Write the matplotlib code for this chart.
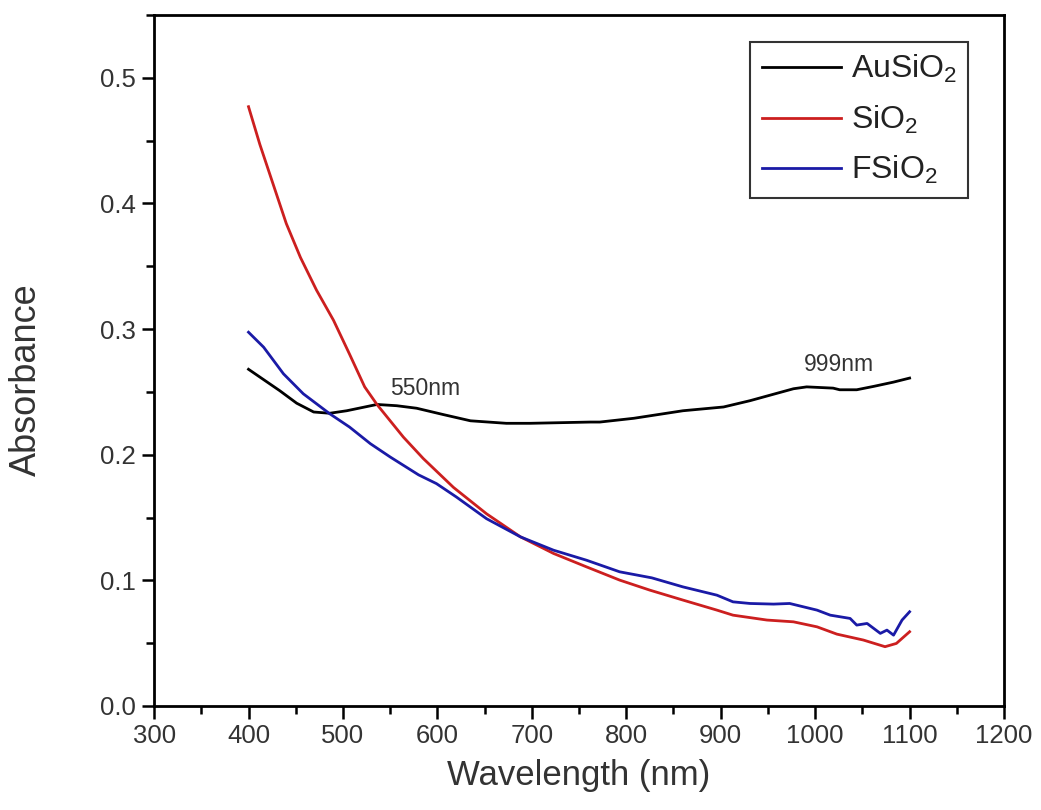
import matplotlib
matplotlib.use("Agg")
import matplotlib.pyplot as plt
from matplotlib.ticker import MultipleLocator

plt.rcParams['font.family'] = ['Liberation Sans', 'DejaVu Sans']
plt.rcParams['mathtext.fontset'] = 'custom'
plt.rcParams['mathtext.rm'] = 'Liberation Sans'
plt.rcParams['mathtext.it'] = 'Liberation Sans'

# AuSiO2 (black)
au_x = [400, 433, 451, 469, 486, 504, 536, 557, 578, 606, 635, 673, 698, 762, 772,
        808, 860, 903, 931, 977, 991, 1019, 1026, 1044, 1062, 1083, 1100]
au_y = [0.268, 0.251, 0.241, 0.234, 0.233, 0.235, 0.240, 0.239, 0.237, 0.232, 0.227,
        0.225, 0.225, 0.226, 0.226, 0.229, 0.235, 0.238, 0.243, 0.2525, 0.254, 0.253,
        0.2517, 0.2517, 0.2544, 0.2578, 0.261]

# SiO2 (red)
si_x = [400, 412, 426, 440, 455, 472, 490, 507, 523, 536, 564, 585, 617, 652, 688,
        723, 758, 793, 825, 860, 896, 913, 949, 977, 1002, 1023, 1051, 1074, 1086, 1100]
si_y = [0.477, 0.447, 0.4155, 0.384, 0.357, 0.331, 0.307, 0.280, 0.254, 0.240, 0.214,
        0.197, 0.174, 0.153, 0.1346, 0.1214, 0.1107, 0.1002, 0.0922, 0.0843, 0.0763,
        0.0723, 0.0684, 0.0670, 0.0630, 0.0572, 0.0525, 0.0472, 0.0498, 0.0591]

# FSiO2 (blue)
f_x = [400, 416, 437, 458, 486, 507, 529, 550, 580, 599, 620, 652, 688, 723, 758, 793,
       827, 860, 896, 913, 931, 956, 973, 1002, 1016, 1037, 1044, 1055, 1069, 1076,
       1083, 1092, 1100]
f_y = [0.2975, 0.2856, 0.2644, 0.2485, 0.2326, 0.2220, 0.2088, 0.1982, 0.184, 0.1770,
       0.1664, 0.1491, 0.1346, 0.124, 0.116, 0.1068, 0.102, 0.0948, 0.0882, 0.0829,
       0.0816, 0.0811, 0.0816, 0.0763, 0.0723, 0.0697, 0.0644, 0.0657, 0.0578, 0.0604,
       0.0564, 0.0684, 0.075]

labels = ['AuSiO$_2$', 'SiO$_2$', 'FSiO$_2$']
colors = ['#000000', '#cc1f1f', '#1a1aa6']

xticks = [300, 400, 500, 600, 700, 800, 900, 1000, 1100, 1200]
yticks = [0.0, 0.1, 0.2, 0.3, 0.4, 0.5]

fig = plt.figure(figsize=(10.41, 8.10), dpi=100)
ax = fig.add_axes([0.148, 0.1284, 0.8165, 0.8531])

ax.plot(au_x, au_y, color=colors[0], lw=2.0, label=labels[0])
ax.plot(si_x, si_y, color=colors[1], lw=2.0, label=labels[1])
ax.plot(f_x, f_y, color=colors[2], lw=2.0, label=labels[2])

ax.set_xlim(300, 1200)
ax.set_ylim(0, 0.55)
ax.set_xticks(xticks)
ax.set_yticks(yticks)
ax.set_xticklabels([str(v) for v in xticks])
ax.set_yticklabels(['%.1f' % v for v in yticks])
ax.xaxis.set_minor_locator(MultipleLocator(50))
ax.yaxis.set_minor_locator(MultipleLocator(0.05))

for s in ax.spines.values():
    s.set_linewidth(2.0)
ax.tick_params(which='major', direction='out', length=9, width=1.8,
               labelsize=18.5, colors='#000000', labelcolor='#333333', pad=4)
ax.tick_params(which='minor', direction='out', length=6, width=1.8)
ax.tick_params(top=False, right=False)

ax.set_xlabel('Wavelength (nm)', fontsize=25, color='#333333', labelpad=8)
ax.set_ylabel('Absorbance', fontsize=26, color='#333333')
ax.yaxis.set_label_coords(-0.129, 0.472)

ax.text(550, 0.253, '550nm', fontsize=16.5, color='#333333', ha='left', va='center')
ax.text(1025, 0.272, '999nm', fontsize=16.5, color='#333333', ha='center', va='center')

leg = ax.legend(loc='upper right', bbox_to_anchor=(0.958, 0.961), fontsize=23,
                frameon=True, fancybox=False, edgecolor='black', handlelength=2.5,
                labelspacing=0.58, borderpad=0.35, handletextpad=0.3, borderaxespad=0)
leg.get_frame().set_linewidth(1.5)
for t in leg.get_texts():
    t.set_color('#222222')

fig.savefig('out.png', dpi=100, facecolor='white')
